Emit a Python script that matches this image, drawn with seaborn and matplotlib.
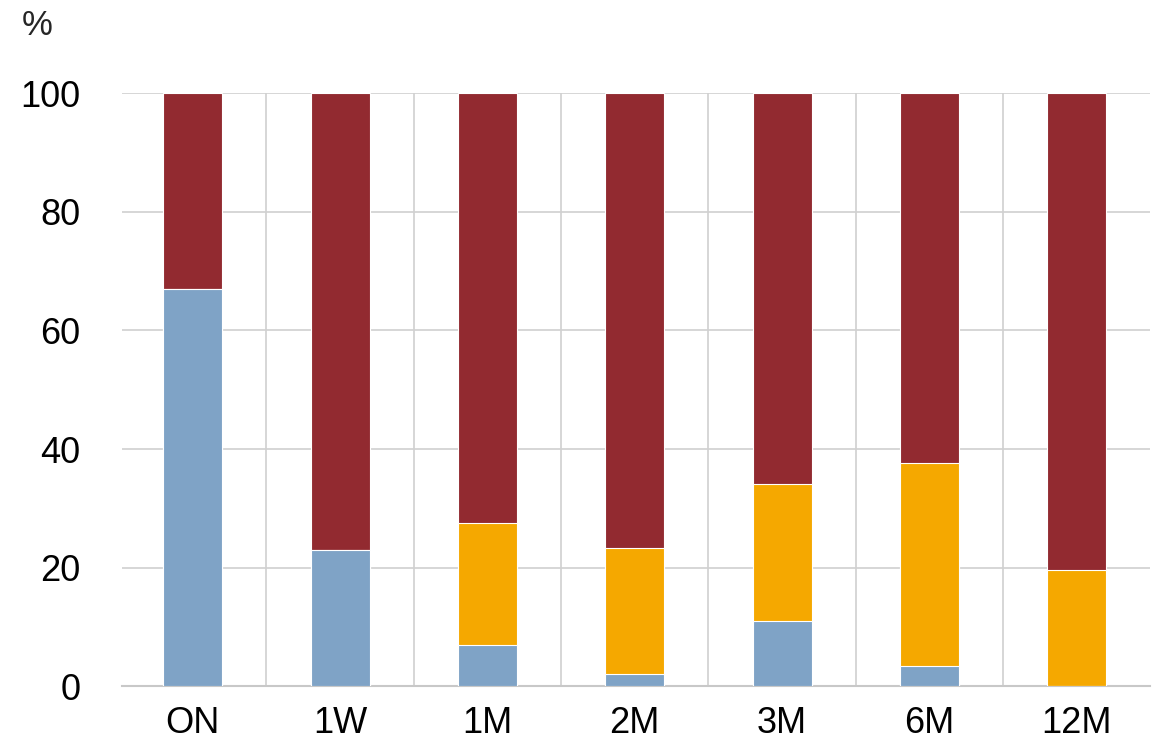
import numpy as np
import pandas as pd
import matplotlib
matplotlib.use("Agg")
import matplotlib.pyplot as plt
import seaborn as sns
from matplotlib.ticker import FixedLocator

categories = ["ON", "1W", "1M", "2M", "3M", "6M", "12M"]
blue_vals = [67.0, 23.0, 7.0, 2.0, 11.0, 3.5, 0.0]
orange_vals = [0.0, 0.0, 20.5, 21.4, 23.1, 34.1, 19.6]
red_vals = [33.0, 77.0, 72.5, 76.6, 65.9, 62.4, 80.4]

blue_c = "#7FA3C6"
orange_c = "#F5A800"
red_c = "#922A30"

sns.set_theme(style="white")
plt.rcParams["font.family"] = ["Liberation Sans", "DejaVu Sans"]

b = np.array(blue_vals)
o = np.array(orange_vals)
r = np.array(red_vals)
df = pd.DataFrame({
    "cat": categories,
    "total": b + o + r,
    "bo": b + o,
    "b": b,
})

fig = plt.figure(figsize=(11.62, 7.46), dpi=100)
ax = fig.add_axes([0.105, 0.08, 0.885, 0.795])

for col, c in [("total", red_c), ("bo", orange_c), ("b", blue_c)]:
    sns.barplot(data=df, x="cat", y=col, color=c, width=0.4, ax=ax,
                edgecolor="white", linewidth=0.8, saturation=1, zorder=3)

ax.set_ylim(0, 100)
ax.set_xlim(-0.48, 6.5)
ax.set_yticks([0, 20, 40, 60, 80, 100])
ax.xaxis.set_minor_locator(FixedLocator(np.arange(0.5, 6.5, 1.0)))
ax.grid(axis="y", which="major", color="#D0D0D0", linewidth=1.2, zorder=0)
ax.grid(axis="x", which="minor", color="#D0D0D0", linewidth=1.2, zorder=0)
ax.grid(axis="x", which="major", visible=False)
ax.set_axisbelow(True)
for s in ["top", "right", "left"]:
    ax.spines[s].set_visible(False)
ax.spines["bottom"].set_color("#C8C8C8")
ax.spines["bottom"].set_linewidth(1.5)
ax.set_xlabel("")
ax.set_ylabel("")
ax.tick_params(axis="both", which="both", length=0, labelsize=26, colors="black")
ax.tick_params(axis="y", pad=30)
ax.tick_params(axis="x", pad=14)
fig.text(0.019, 0.966, "%", fontsize=25, va="center", ha="left")

fig.savefig("out.png", dpi=100)
